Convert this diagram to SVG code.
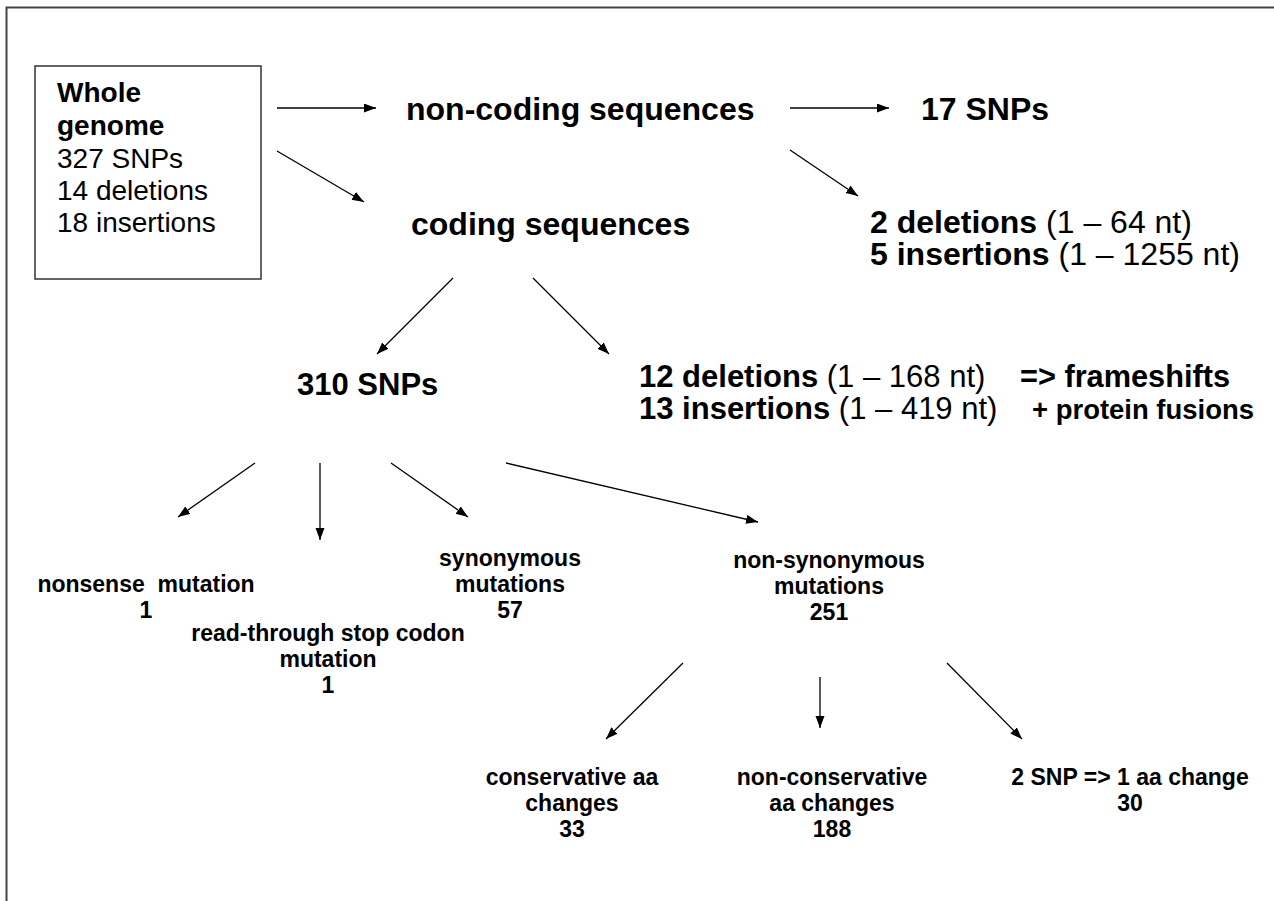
<svg xmlns="http://www.w3.org/2000/svg" width="1274" height="901" viewBox="0 0 1274 901">
<defs>
<marker id="ah" markerUnits="userSpaceOnUse" markerWidth="13" markerHeight="10" refX="12" refY="4.5" orient="auto">
<path d="M0,0 L12,4.5 L0,9 z" fill="#000"/>
</marker>
<style>
text{font-family:"Liberation Sans",Arial,sans-serif;fill:#000}
.big{font-size:32px;font-weight:bold}
.mid{font-size:31px;font-weight:bold}
.box{font-size:28px}
.b{font-weight:bold}
.r{font-weight:normal}
.sm{font-size:23px;font-weight:bold;text-anchor:middle}
.conn line{stroke:#000;stroke-width:1.3;marker-end:url(#ah)}
</style>
</defs>
<rect width="1274" height="901" fill="#fff"/>
<path d="M6.5,901 V7.5 H1274" fill="none" stroke="#444" stroke-width="2"/>

<g id="whole-genome">
<rect x="35" y="66" width="226" height="213" fill="none" stroke="#333" stroke-width="1.5"/>
<text class="box" x="57" y="102"><tspan class="b">Whole</tspan></text>
<text class="box" x="57" y="135"><tspan class="b">genome</tspan></text>
<text class="box" x="57" y="168">327 SNPs</text>
<text class="box" x="57" y="200">14 deletions</text>
<text class="box" x="57" y="232">18 insertions</text>
</g>

<g id="non-coding"><text class="big" x="406" y="120">non-coding sequences</text></g>
<g id="nc-snps"><text class="big" x="921" y="120">17 SNPs</text></g>
<g id="coding"><text class="big" x="411" y="235">coding sequences</text></g>
<g id="nc-indels">
<text class="big" x="870" y="233"><tspan class="b">2 deletions </tspan><tspan class="r">(1 – 64 nt)</tspan></text>
<text class="big" x="870" y="265"><tspan class="b">5 insertions </tspan><tspan class="r">(1 – 1255 nt)</tspan></text>
</g>
<g id="c-indels">
<text class="mid" x="639" y="387"><tspan class="b">12 deletions </tspan><tspan class="r">(1 – 168 nt)</tspan></text>
<text class="mid" x="639" y="419"><tspan class="b">13 insertions </tspan><tspan class="r">(1 – 419 nt)</tspan></text>
<text class="mid" x="1020" y="387" textLength="210" lengthAdjust="spacingAndGlyphs">=&gt; frameshifts</text>
<text x="1032" y="419" font-size="27" font-weight="bold" textLength="222" lengthAdjust="spacingAndGlyphs">+ protein fusions</text>
</g>
<g id="snps310"><text class="mid" x="297" y="395">310 SNPs</text></g>

<g id="nonsense">
<text class="sm" x="146" y="592" xml:space="preserve">nonsense  mutation</text>
<text class="sm" x="146" y="618">1</text>
</g>
<g id="readthrough">
<text class="sm" x="328" y="641">read-through stop codon</text>
<text class="sm" x="328" y="667">mutation</text>
<text class="sm" x="328" y="693">1</text>
</g>
<g id="synonymous">
<text class="sm" x="510" y="566">synonymous</text>
<text class="sm" x="510" y="592">mutations</text>
<text class="sm" x="510" y="618">57</text>
</g>
<g id="non-synonymous">
<text class="sm" x="829" y="568">non-synonymous</text>
<text class="sm" x="829" y="594">mutations</text>
<text class="sm" x="829" y="620">251</text>
</g>
<g id="conservative">
<text class="sm" x="572" y="785">conservative aa</text>
<text class="sm" x="572" y="811">changes</text>
<text class="sm" x="572" y="837">33</text>
</g>
<g id="non-conservative">
<text class="sm" x="832" y="785">non-conservative</text>
<text class="sm" x="832" y="811">aa changes</text>
<text class="sm" x="832" y="837">188</text>
</g>
<g id="two-snp">
<text class="sm" x="1130" y="785">2 SNP =&gt; 1 aa change</text>
<text class="sm" x="1130" y="811">30</text>
</g>

<g id="connectors" class="conn">
<line x1="277" y1="108" x2="376" y2="108"/>
<line x1="277" y1="151" x2="364" y2="202"/>
<line x1="790" y1="108" x2="889" y2="108"/>
<line x1="790" y1="150" x2="858" y2="196"/>
<line x1="453" y1="278" x2="377" y2="354"/>
<line x1="533" y1="278" x2="609" y2="354"/>
<line x1="255" y1="463" x2="178" y2="517"/>
<line x1="320" y1="463" x2="320" y2="540"/>
<line x1="391" y1="463" x2="468" y2="517"/>
<line x1="506" y1="463" x2="758" y2="522"/>
<line x1="683" y1="663" x2="606" y2="739"/>
<line x1="820" y1="677" x2="820" y2="728"/>
<line x1="947" y1="663" x2="1022" y2="739"/>
</g>
</svg>
